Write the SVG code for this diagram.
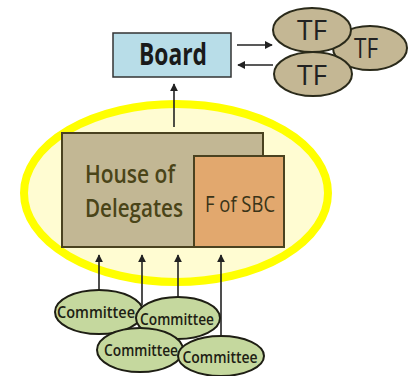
<svg xmlns="http://www.w3.org/2000/svg" width="412" height="376" viewBox="0 0 412 376">
<defs>
<marker id="ah" viewBox="0 0 10 10" refX="9" refY="5" markerWidth="5" markerHeight="5" orient="auto-start-reverse">
<path d="M0,0 L10,5 L0,10 z" fill="#222"/>
</marker>
<style>
text{font-family:"Open Sans","Liberation Sans","DejaVu Sans",sans-serif;text-anchor:middle}
.tf{fill:#c4b794;stroke:#2a2a1a;stroke-width:2}
.tft{font-size:28px;fill:#222}
.cm{fill:#c5d89e;stroke:#1e1e14;stroke-width:2}
.cmt{font-size:16.5px;font-weight:600;fill:#1e1e14}
.con{stroke:#222;stroke-width:1.6;fill:none}
</style>
</defs>
<rect width="412" height="376" fill="#fff"/>
<g id="hod-area">
<ellipse cx="176" cy="193" rx="152" ry="89" fill="#fffcd2" stroke="#ffff00" stroke-width="8"/>
</g>
<g id="board">
<rect x="113" y="33" width="118" height="44" fill="#b8dde8" stroke="#333" stroke-width="1.5"/>
<text x="173" y="65" font-size="30" font-weight="bold" fill="#1a1a1a" textLength="68" lengthAdjust="spacingAndGlyphs">Board</text>
</g>
<g id="tf2">
<ellipse class="tf" cx="370" cy="48" rx="37" ry="22"/>
<text class="tft" x="366" y="58" textLength="24" lengthAdjust="spacingAndGlyphs">TF</text>
</g>
<g id="tf1">
<ellipse class="tf" cx="312" cy="30" rx="39" ry="22"/>
<text class="tft" x="312" y="40" textLength="30" lengthAdjust="spacingAndGlyphs">TF</text>
</g>
<g id="tf3">
<ellipse class="tf" cx="313" cy="74" rx="39" ry="22"/>
<text class="tft" x="312" y="85" textLength="30" lengthAdjust="spacingAndGlyphs">TF</text>
</g>
<g id="hod">
<rect x="62" y="133" width="201" height="114" fill="#c2b794" stroke="#4a4220" stroke-width="2"/>
<text x="130" y="183" font-size="25" font-weight="600" fill="#4a4418" textLength="90" lengthAdjust="spacingAndGlyphs">House of</text>
<text x="134" y="217" font-size="25" font-weight="600" fill="#4a4418" textLength="98" lengthAdjust="spacingAndGlyphs">Delegates</text>
</g>
<g id="fsbc">
<rect x="194" y="156" width="90" height="91" fill="#e2a86e" stroke="#4a4220" stroke-width="2"/>
<text x="240" y="212" font-size="21" fill="#3a3418" textLength="70" lengthAdjust="spacingAndGlyphs">F of SBC</text>
</g>
<g id="connectors">
<line class="con" x1="237" y1="45" x2="272" y2="45" marker-end="url(#ah)"/>
<line class="con" x1="273" y1="65" x2="238" y2="65" marker-end="url(#ah)"/>
<line class="con" x1="174" y1="127" x2="174" y2="84" marker-end="url(#ah)"/>
<line class="con" x1="99" y1="291" x2="99" y2="255" marker-end="url(#ah)"/>
<line class="con" x1="142" y1="305" x2="142" y2="255" marker-end="url(#ah)"/>
<line class="con" x1="178" y1="298" x2="178" y2="255" marker-end="url(#ah)"/>
<line class="con" x1="221" y1="338" x2="221" y2="255" marker-end="url(#ah)"/>
</g>
<g id="committee1">
<ellipse class="cm" cx="99" cy="312" rx="44" ry="22"/>
<text class="cmt" x="96" y="318" textLength="78" lengthAdjust="spacingAndGlyphs">Committee</text>
</g>
<g id="committee2">
<ellipse class="cm" cx="178" cy="318" rx="42" ry="21"/>
<text class="cmt" x="177" y="325" textLength="74" lengthAdjust="spacingAndGlyphs">Committee</text>
</g>
<g id="committee3">
<ellipse class="cm" cx="140" cy="350" rx="43" ry="22"/>
<text class="cmt" x="141" y="356" textLength="74" lengthAdjust="spacingAndGlyphs">Committee</text>
</g>
<g id="committee4">
<ellipse class="cm" cx="221" cy="356" rx="43" ry="20"/>
<text class="cmt" x="220" y="363" textLength="75" lengthAdjust="spacingAndGlyphs">Committee</text>
</g>
</svg>
